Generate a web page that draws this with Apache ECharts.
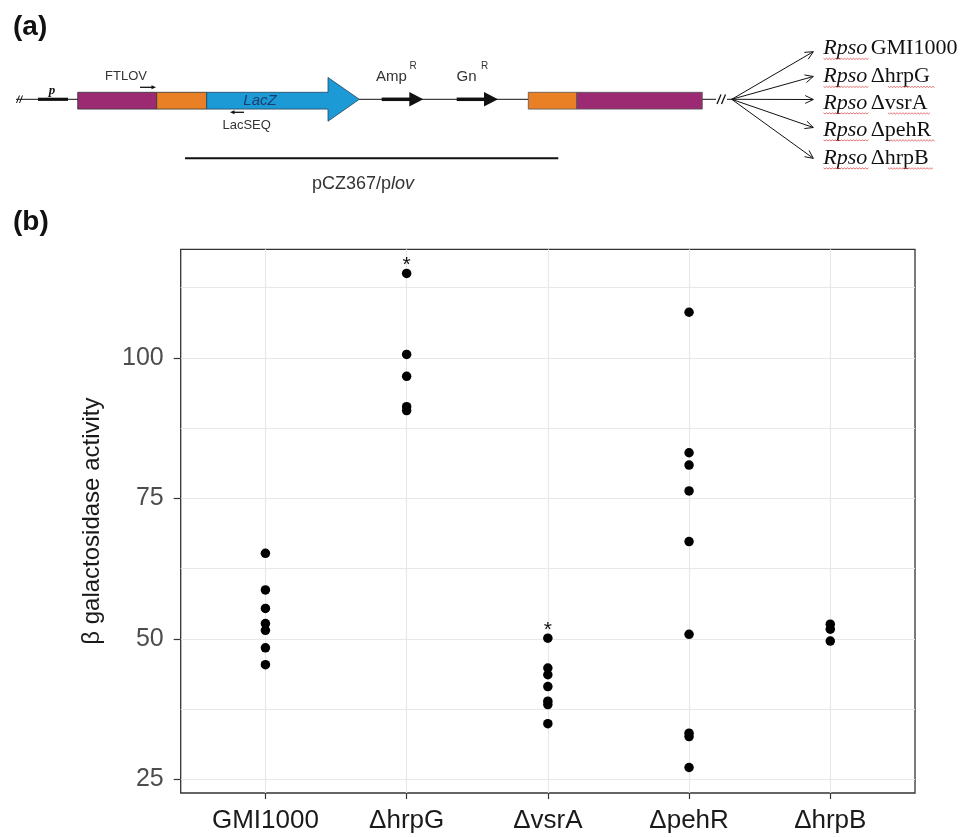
<!DOCTYPE html>
<html>
<head>
<meta charset="utf-8">
<script src="https://cdn.jsdelivr.net/npm/echarts@6/dist/echarts.min.js"></script>
<style>
html,body{margin:0;padding:0;background:#fff;}
#chart{width:971px;height:837px;}
</style>
</head>
<body>
<div id="chart"></div>
<script>
// ---- data ----
var categories = ['GMI1000', 'ΔhrpG', 'ΔvsrA', 'ΔpehR', 'ΔhrpB'];
var gmi1000 = [65.2, 58.7, 55.4, 52.7, 51.5, 48.4, 45.4];
var hrpG = [115.0, 100.6, 96.7, 91.3, 90.6];
var vsrA = [50.1, 44.8, 43.6, 41.5, 38.9, 38.3, 34.9];
var pehR = [108.1, 83.1, 80.9, 76.3, 67.3, 50.8, 33.2, 32.6, 27.1];
var hrpB = [52.6, 51.7, 49.6];
var significant = [false, true, true, false, false];
var yTicks = [25, 50, 75, 100];
var yMinorGrid = [25, 37.5, 50, 62.5, 75, 87.5, 100, 112.5];
var strainLabels = ['GMI1000', 'ΔhrpG', 'ΔvsrA', 'ΔpehR', 'ΔhrpB'];

var groups = [gmi1000, hrpG, vsrA, pehR, hrpB];
var points = [];
groups.forEach(function (vals, i) {
  var maxV = Math.max.apply(null, vals);
  vals.forEach(function (v) {
    var item = { value: [i + 1, v] };
    if (significant[i] && v === maxV) {
      item.label = { show: true, formatter: '*', position: 'inside', offset: [0, -8],
        fontSize: 21, color: '#111', fontFamily: 'Liberation Sans, Arial, sans-serif' };
    }
    points.push(item);
  });
});

// ---- diagram (panel a) decorations ----
var LINE_Y = 99.3;
var g = [];
function line(x1, y1, x2, y2, w, c) {
  g.push({ type: 'line', shape: { x1: x1, y1: y1, x2: x2, y2: y2 }, style: { stroke: c || '#111', lineWidth: w || 1 } });
}
function text(x, y, t, opt) {
  var s = Object.assign({ x: x, y: y, text: t, fill: '#333', font: '13px "Liberation Sans", Arial, sans-serif', textAlign: 'center', textVerticalAlign: 'middle' }, opt || {});
  g.push({ type: 'text', style: s });
}
// panel labels
text(13, 27, '(a)', { font: 'bold 28px "Liberation Sans", Arial, sans-serif', fill: '#111', textAlign: 'left' });
text(13, 222, '(b)', { font: 'bold 28px "Liberation Sans", Arial, sans-serif', fill: '#111', textAlign: 'left' });

// backbone
line(16, LINE_Y, 78, LINE_Y, 1);
line(359, LINE_Y, 528, LINE_Y, 1);
line(702, LINE_Y, 716, LINE_Y, 1);
line(727, LINE_Y, 732, LINE_Y, 1);
// break marks
line(16.5, 103, 19.5, 95.5, 1);
line(19.5, 103, 22.5, 95.5, 1);
line(717, 104, 721, 94.5, 1.3);
line(721.5, 104, 725.5, 94.5, 1.3);
// promoter
line(38, LINE_Y, 68, LINE_Y, 3.2);
text(52, 91, 'p', { font: 'italic bold 13px "Liberation Serif", serif', fill: '#111' });
// boxes
g.push({ type: 'rect', shape: { x: 77.7, y: 92.3, width: 79, height: 16.8 }, style: { fill: '#9c2a73', stroke: '#333', lineWidth: 0.8 } });
g.push({ type: 'rect', shape: { x: 156.7, y: 92.3, width: 50, height: 16.8 }, style: { fill: '#ea8026', stroke: '#333', lineWidth: 0.8 } });
g.push({ type: 'polygon', shape: { points: [[206.7, 92.3], [328, 92.3], [328, 77.5], [359.3, LINE_Y], [328, 121.2], [328, 109.1], [206.7, 109.1]] }, style: { fill: '#1c9ad6', stroke: '#24445e', lineWidth: 0.8 } });
g.push({ type: 'rect', shape: { x: 528.3, y: 92.3, width: 48.4, height: 16.8 }, style: { fill: '#ea8026', stroke: '#555', lineWidth: 0.8 } });
g.push({ type: 'rect', shape: { x: 576.7, y: 92.3, width: 125.6, height: 16.8 }, style: { fill: '#9c2a73', stroke: '#555', lineWidth: 0.8 } });
text(260, 101, 'LacZ', { font: 'italic 15px "Liberation Sans", Arial, sans-serif', fill: '#1d3c6e' });
// primers
line(140, 87.3, 153, 87.3, 1.3);
g.push({ type: 'polygon', shape: { points: [[156, 87.3], [151.5, 85.3], [151.5, 89.3]] }, style: { fill: '#111' } });
text(126, 76, 'FTLOV', { font: '13px "Liberation Sans", Arial, sans-serif' });
line(233, 112.3, 244, 112.3, 1.3);
g.push({ type: 'polygon', shape: { points: [[230, 112.3], [234.5, 110.3], [234.5, 114.3]] }, style: { fill: '#111' } });
text(246.7, 125.5, 'LacSEQ', { font: '13px "Liberation Sans", Arial, sans-serif' });
// resistance genes
line(381.7, LINE_Y, 410, LINE_Y, 3.5);
g.push({ type: 'polygon', shape: { points: [[409.3, 92], [423.3, LINE_Y], [409.3, 106.6]] }, style: { fill: '#111' } });
line(456.7, LINE_Y, 485, LINE_Y, 3.5);
g.push({ type: 'polygon', shape: { points: [[484, 92], [498, LINE_Y], [484, 106.6]] }, style: { fill: '#111' } });
text(391.5, 77, 'Amp', { font: '15px "Liberation Sans", Arial, sans-serif' });
text(413, 66, 'R', { font: '10px "Liberation Sans", Arial, sans-serif' });
text(466.5, 77, 'Gn', { font: '15px "Liberation Sans", Arial, sans-serif' });
text(484.5, 66, 'R', { font: '10px "Liberation Sans", Arial, sans-serif' });
// plasmid bracket
line(185, 158.3, 558.3, 158.3, 2);
g.push({ type: 'text', style: { x: 363, y: 184, textAlign: 'center', textVerticalAlign: 'middle',
  rich: { n: { fontSize: 18, fontFamily: 'Liberation Sans, Arial, sans-serif', fill: '#333' },
          i: { fontSize: 18, fontStyle: 'italic', fontFamily: 'Liberation Sans, Arial, sans-serif', fill: '#333' } },
  text: '{n|pCZ367/p}{i|lov}' } });
// fan arrows and strain labels
var fanTipsY = [51.7, 76.5, 99.5, 127.5, 158.3];
var labelY = [48.5, 76.5, 103, 130, 158];
var underlineW = [0, 47, 42, 47, 45];
function wavy(xs, w, y) {
  var pts = [];
  for (var x = xs; x <= xs + w; x += 1.5) { pts.push([x, y + ((Math.round((x - xs) / 1.5) % 2) ? 1 : -0.2)]); }
  g.push({ type: 'polyline', shape: { points: pts }, style: { stroke: '#e05050', lineWidth: 0.8, fill: null } });
}
fanTipsY.forEach(function (ty, i) {
  var x0 = 731.7, y0 = LINE_Y, x1 = 813.3;
  line(x0, y0, x1, ty, 1);
  var ang = Math.atan2(ty - y0, x1 - x0);
  var L = 9, spread = 0.45;
  line(x1, ty, x1 - L * Math.cos(ang - spread), ty - L * Math.sin(ang - spread), 1);
  line(x1, ty, x1 - L * Math.cos(ang + spread), ty - L * Math.sin(ang + spread), 1);
  g.push({ type: 'text', style: { x: 823.3, y: labelY[i], textAlign: 'left', textVerticalAlign: 'middle',
    rich: { it: { fontSize: 22, fontStyle: 'italic', fontFamily: 'Liberation Serif, serif', fill: '#111' },
            n: { fontSize: 22, fontFamily: 'Liberation Serif, serif', fill: '#111' } },
    text: '{it|Rpso} {n|' + strainLabels[i] + '}' } });
  var uy = labelY[i] + 10;
  wavy(823.5, 46, uy);
  if (underlineW[i]) wavy(888, underlineW[i], uy);
});

var chart = echarts.init(document.getElementById('chart'), null, { renderer: 'canvas' });
var tickFont = 'Liberation Sans, Arial, sans-serif';
chart.setOption({
  backgroundColor: '#ffffff',
  animation: false,
  grid: { left: 180.7, top: 249.3, right: 56, bottom: 44, show: true, borderColor: '#333', borderWidth: 1.3, backgroundColor: 'transparent', containLabel: false },
  xAxis: {
    type: 'value', min: 0.4, max: 5.6,
    axisLine: { show: false },
    axisTick: { show: true, customValues: [1, 2, 3, 4, 5], length: 6, lineStyle: { color: '#333', width: 1.2 } },
    axisLabel: { show: true, customValues: [1, 2, 3, 4, 5], formatter: function (v) { return categories[Math.round(v) - 1]; },
      fontSize: 26, color: '#1a1a1a', margin: 15, fontFamily: tickFont },
    splitLine: { show: true, lineStyle: { color: '#e8e8e8', width: 1.2 } }
  },
  yAxis: [{
    type: 'value', min: 22.56, max: 119.3,
    axisLine: { show: false },
    axisTick: { show: false, customValues: yMinorGrid },
    axisLabel: { show: true, customValues: yTicks, fontSize: 25, color: '#4d4d4d', margin: 17, fontFamily: tickFont },
    splitLine: { show: true, lineStyle: { color: '#e8e8e8', width: 1 } },
    name: 'β galactosidase activity', nameLocation: 'middle', nameGap: 76, nameRotate: 90,
    nameTextStyle: { fontSize: 24, color: '#1a1a1a', fontFamily: tickFont }
  }, {
    type: 'value', min: 22.56, max: 119.3, position: 'left',
    axisLine: { show: false },
    axisTick: { show: true, customValues: yTicks, length: 7, lineStyle: { color: '#333', width: 1.2 } },
    axisLabel: { show: false },
    splitLine: { show: false }
  }],
  graphic: { elements: g },
  series: [{
    type: 'scatter', yAxisIndex: 0, symbol: 'circle', symbolSize: 9.5,
    itemStyle: { color: '#000', opacity: 1 },
    data: points, z: 5
  }]
});
</script>
</body>
</html>
